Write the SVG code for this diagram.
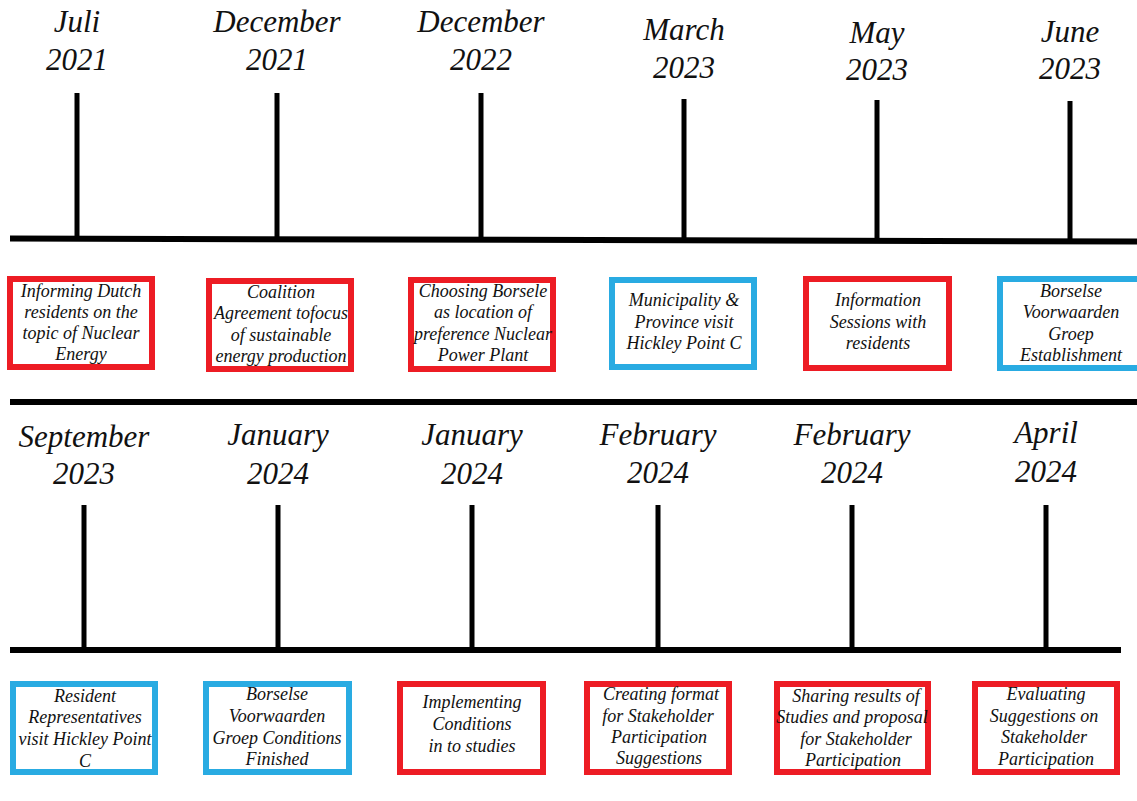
<svg xmlns="http://www.w3.org/2000/svg" width="1137" height="801" viewBox="0 0 1137 801">
<style>
.date{font-family:"Liberation Serif","Times New Roman",serif;font-style:italic;font-size:31px;fill:#111;text-anchor:middle}
.t{font-family:"Liberation Serif","Times New Roman",serif;font-style:italic;font-size:18px;fill:#111;text-anchor:middle}
.red{fill:#fff;stroke:#ED1C24;stroke-width:6}
.blue{fill:#fff;stroke:#29ABE2;stroke-width:6}
.ax{stroke:#000;stroke-width:6;fill:none}
.tick{stroke:#000;stroke-width:5;fill:none}
</style>
<rect width="1137" height="801" fill="#fff"/>
<g id="connectors">
<line class="ax" x1="10" y1="238.5" x2="1137" y2="241.5"/>
<line class="ax" x1="10" y1="402" x2="1137" y2="402"/>
<line class="ax" x1="10" y1="650" x2="1121" y2="650"/>
<line class="tick" x1="77" y1="93" x2="77" y2="239"/>
<line class="tick" x1="277" y1="93" x2="277" y2="239"/>
<line class="tick" x1="481" y1="93" x2="481" y2="240"/>
<line class="tick" x1="684" y1="99" x2="684" y2="243"/>
<line class="tick" x1="877" y1="100" x2="877" y2="243"/>
<line class="tick" x1="1070" y1="101" x2="1070" y2="244"/>
<line class="tick" x1="84" y1="505" x2="84" y2="650"/>
<line class="tick" x1="278" y1="505" x2="278" y2="650"/>
<line class="tick" x1="472" y1="505" x2="472" y2="650"/>
<line class="tick" x1="658" y1="505" x2="658" y2="650"/>
<line class="tick" x1="852" y1="505" x2="852" y2="650"/>
<line class="tick" x1="1046" y1="505" x2="1046" y2="650"/>
</g>
<g id="ev1">
<text class="date" x="77" y="32">Juli</text><text class="date" x="77" y="70">2021</text>
<rect class="red" x="10" y="279" width="142" height="88"/>
<text class="t" x="81" y="297">Informing Dutch</text>
<text class="t" x="81" y="318">residents on the</text>
<text class="t" x="81" y="339">topic of Nuclear</text>
<text class="t" x="81" y="360">Energy</text>
</g>
<g id="ev2">
<text class="date" x="277" y="32">December</text><text class="date" x="277" y="70">2021</text>
<rect class="red" x="209" y="281" width="142" height="88"/>
<text class="t" x="281" y="298">Coalition</text>
<text class="t" x="281" y="319">Agreement tofocus</text>
<text class="t" x="281" y="341">of sustainable</text>
<text class="t" x="281" y="362">energy production</text>
</g>
<g id="ev3">
<text class="date" x="481" y="32">December</text><text class="date" x="481" y="70">2022</text>
<rect class="red" x="411" y="280" width="142" height="89"/>
<text class="t" x="483" y="297">Choosing Borsele</text>
<text class="t" x="483" y="318">as location of</text>
<text class="t" x="483" y="340">preference Nuclear</text>
<text class="t" x="483" y="361">Power Plant</text>
</g>
<g id="ev4">
<text class="date" x="684" y="40">March</text><text class="date" x="684" y="78">2023</text>
<rect class="blue" x="612" y="280" width="142" height="87"/>
<text class="t" x="684" y="306">Municipality &amp;</text>
<text class="t" x="684" y="328">Province visit</text>
<text class="t" x="684" y="349">Hickley Point C</text>
</g>
<g id="ev5">
<text class="date" x="877" y="43">May</text><text class="date" x="877" y="80">2023</text>
<rect class="red" x="806" y="279" width="143" height="89"/>
<text class="t" x="878" y="306">Information</text>
<text class="t" x="878" y="328">Sessions with</text>
<text class="t" x="878" y="349">residents</text>
</g>
<g id="ev6">
<text class="date" x="1070" y="42">June</text><text class="date" x="1070" y="79">2023</text>
<rect class="blue" x="1000" y="279" width="140" height="89"/>
<text class="t" x="1071" y="297">Borselse</text>
<text class="t" x="1071" y="318">Voorwaarden</text>
<text class="t" x="1071" y="340">Groep</text>
<text class="t" x="1071" y="361">Establishment</text>
</g>
<g id="ev7">
<text class="date" x="84" y="447">September</text><text class="date" x="84" y="484">2023</text>
<rect class="blue" x="13" y="684" width="142" height="88"/>
<text class="t" x="85" y="702">Resident</text>
<text class="t" x="85" y="723">Representatives</text>
<text class="t" x="85" y="745">visit Hickley Point</text>
<text class="t" x="85" y="767">C</text>
</g>
<g id="ev8">
<text class="date" x="278" y="445">January</text><text class="date" x="278" y="484">2024</text>
<rect class="blue" x="206" y="684" width="143" height="88"/>
<text class="t" x="277" y="700">Borselse</text>
<text class="t" x="277" y="722">Voorwaarden</text>
<text class="t" x="277" y="744">Groep Conditions</text>
<text class="t" x="277" y="765">Finished</text>
</g>
<g id="ev9">
<text class="date" x="472" y="445">January</text><text class="date" x="472" y="484">2024</text>
<rect class="red" x="400" y="684" width="143" height="88"/>
<text class="t" x="472" y="708">Implementing</text>
<text class="t" x="472" y="730">Conditions</text>
<text class="t" x="472" y="752">in to studies</text>
</g>
<g id="ev10">
<text class="date" x="658" y="445">February</text><text class="date" x="658" y="483">2024</text>
<rect class="red" x="587" y="684" width="142" height="88"/>
<text class="t" x="661" y="700">Creating format</text>
<text class="t" x="658" y="722">for Stakeholder</text>
<text class="t" x="659" y="743">Participation</text>
<text class="t" x="659" y="764">Suggestions</text>
</g>
<g id="ev11">
<text class="date" x="852" y="445">February</text><text class="date" x="852" y="483">2024</text>
<rect class="red" x="777" y="684" width="151" height="88"/>
<text class="t" x="856" y="702">Sharing results of</text>
<text class="t" x="852" y="723">Studies and proposal</text>
<text class="t" x="856" y="745">for Stakeholder</text>
<text class="t" x="853" y="766">Participation</text>
</g>
<g id="ev12">
<text class="date" x="1046" y="443">April</text><text class="date" x="1046" y="482">2024</text>
<rect class="red" x="975" y="684" width="142" height="88"/>
<text class="t" x="1046" y="700">Evaluating</text>
<text class="t" x="1044" y="722">Suggestions on</text>
<text class="t" x="1044" y="743">Stakeholder</text>
<text class="t" x="1046" y="765">Participation</text>
</g>
</svg>
